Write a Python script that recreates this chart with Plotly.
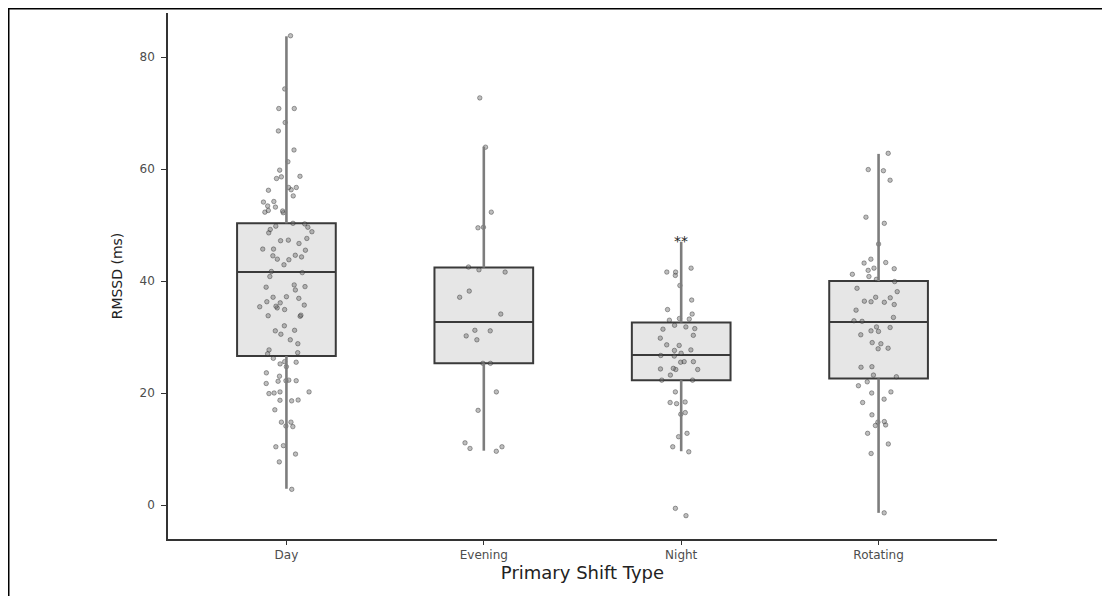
import plotly.graph_objects as go

categories = ["Day", "Evening", "Night", "Rotating"]

# box statistics
q1_vals = [26.6, 25.3, 22.3, 22.6]
median_vals = [41.6, 32.7, 26.8, 32.7]
q3_vals = [50.3, 42.4, 32.6, 40.0]
lower_vals = [2.9, 9.7, 9.6, -1.4]
upper_vals = [83.7, 64.0, 47.0, 62.7]

day_points = [83.8, 74.3, 70.8, 70.8, 68.3, 66.8, 63.4, 61.3, 59.8, 58.6, 58.7, 58.3,
              56.7, 56.7, 56.3, 56.2, 55.2, 54.2, 54.1, 53.4, 53.2, 52.6, 52.5, 52.3,
              52.2, 50.3, 50.2, 49.8, 49.6, 49.2, 48.8, 48.6, 47.6, 47.3, 47.2, 46.7,
              45.7, 45.7, 45.5, 44.6, 44.5, 44.3, 43.9, 43.8, 42.9, 41.7, 41.5, 40.8,
              39.3, 39.0, 38.9, 38.4, 37.2, 37.1, 36.9, 36.3, 36.1, 35.7, 35.5, 35.4,
              35.2, 34.9, 33.9, 33.8, 33.7, 32.0, 31.2, 31.1, 30.5, 29.5, 28.8, 27.7,
              27.2, 27.0, 26.2, 25.6, 25.5, 25.2, 24.7, 23.6, 23.0, 22.3, 22.2, 22.2,
              22.1, 21.7, 20.2, 20.2, 20.0, 19.9, 18.75, 18.7, 18.6, 17.0, 14.8, 14.8,
              14.1, 14.0, 10.6, 10.4, 9.1, 7.7, 2.8]
evening_points = [72.7, 63.9, 52.3, 49.5, 49.6, 42.5, 42.0, 41.6, 38.2, 37.1, 34.1,
                  31.2, 31.1, 30.2, 29.5, 25.3, 25.3, 20.2, 16.9, 11.1, 10.4, 10.1, 9.6]
night_points = [42.3, 41.6, 41.6, 41.0, 39.2, 36.6, 34.9, 34.1, 33.3, 33.2, 33.0, 32.1,
                31.8, 31.5, 31.4, 30.3, 29.8, 28.6, 28.5, 27.7, 27.6, 27.1, 26.7, 26.6,
                25.6, 25.6, 25.5, 24.4, 24.3, 24.2, 24.2, 23.2, 22.3, 22.3, 20.2, 18.4,
                18.3, 18.1, 16.5, 16.2, 12.8, 12.2, 10.4, 9.5, -0.6, -1.9]
rotating_points = [62.8, 59.9, 59.7, 58.0, 51.4, 50.3, 46.6, 43.9, 43.3, 43.2, 42.3,
                   42.2, 41.9, 41.2, 40.8, 40.3, 39.9, 38.7, 38.1, 37.1, 37.0, 36.4,
                   36.3, 36.2, 35.8, 34.8, 33.5, 32.9, 32.8, 31.8, 31.7, 31.1, 31.0,
                   30.4, 29.0, 28.8, 28.0, 27.9, 24.7, 24.6, 23.2, 22.9, 22.0, 21.3,
                   20.2, 20.0, 18.9, 18.3, 16.1, 14.9, 14.8, 14.3, 14.2, 12.8, 10.9,
                   9.2, -1.4]
points_by_cat = [day_points, evening_points, night_points, rotating_points]

sig_label = "**"
sig_category = "Night"
sig_value = 47.2

y_ticks = [0, 20, 40, 60, 80]

# layout in pixels (figure sits inside the page's 8px body margin)
W, H = 1094, 588
L, R, T, B = 160, 989, 5, 531

FONT = "DejaVu Sans"

fig = go.Figure()

# whiskers
wx, wy = [], []
for c, lo, a, b, hi in zip(categories, lower_vals, q1_vals, q3_vals, upper_vals):
    wx += [c, c, None, c, c, None]
    wy += [lo, a, None, b, hi, None]
fig.add_trace(go.Scatter(x=wx, y=wy, mode="lines",
                         line=dict(color="#7d7d7d", width=2.6),
                         hoverinfo="skip", showlegend=False))

# boxes
fig.add_trace(go.Box(x=categories, q1=q1_vals, median=median_vals, q3=q3_vals,
                     lowerfence=q1_vals, upperfence=q3_vals,
                     width=0.5, whiskerwidth=0,
                     fillcolor="#e6e6e6", line=dict(color="#3a3a3a", width=2),
                     boxpoints=False, showlegend=False))

# jittered points
for c, pts in zip(categories, points_by_cat):
    fig.add_trace(go.Box(x=[c] * len(pts), y=pts, width=0.5,
                         boxpoints="all", jitter=0.55, pointpos=0,
                         fillcolor="rgba(0,0,0,0)",
                         line=dict(color="rgba(0,0,0,0)", width=0),
                         marker=dict(color="rgba(110,110,110,0.45)", size=4.5,
                                     line=dict(color="rgba(30,30,30,0.55)", width=0.7)),
                         hoveron="points", showlegend=False))

fig.add_annotation(x=sig_category, y=sig_value, text=sig_label, showarrow=False,
                   font=dict(size=14, color="#222", family=FONT),
                   yanchor="middle")

def px_x(p):
    return (p - L) / (R - L)

def px_y(p):
    return (B - p) / (B - T)

# outer frame (top and left edges)
fig.add_shape(type="line", xref="paper", yref="paper",
              x0=px_x(0), x1=px_x(W + 5), y0=px_y(0.5), y1=px_y(0.5),
              line=dict(color="black", width=2))
fig.add_shape(type="line", xref="paper", yref="paper",
              x0=px_x(0.5), x1=px_x(0.5), y0=px_y(0), y1=px_y(H + 5),
              line=dict(color="black", width=2))

fig.update_layout(
    width=W, height=H,
    margin=dict(l=L, r=W - R, t=T, b=H - B),
    plot_bgcolor="white", paper_bgcolor="white",
    font=dict(family=FONT, color="#4d4d4d"),
    boxmode="overlay",
)
fig.update_xaxes(type="category", categoryorder="array", categoryarray=categories,
                 range=[-0.6, 3.6], showline=True, linecolor="#333", linewidth=1.5,
                 ticks="outside", ticklen=4, tickcolor="#333", tickwidth=1.2,
                 showgrid=False, zeroline=False,
                 tickfont=dict(size=12, color="#4d4d4d"),
                 title=dict(text="Primary Shift Type", standoff=4,
                            font=dict(size=18, color="#222")))
fig.update_yaxes(range=[-6.07, 87.86], tickvals=y_ticks, showline=True,
                 linecolor="#333", linewidth=1.5, ticks="outside", ticklen=5,
                 tickcolor="#333", tickwidth=1.2, showgrid=False, zeroline=False,
                 ticklabelstandoff=4,
                 tickfont=dict(size=12, color="#4d4d4d"),
                 title=dict(text="RMSSD (ms)", standoff=14,
                            font=dict(size=14, color="#222")))

fig.write_html("out.html")
